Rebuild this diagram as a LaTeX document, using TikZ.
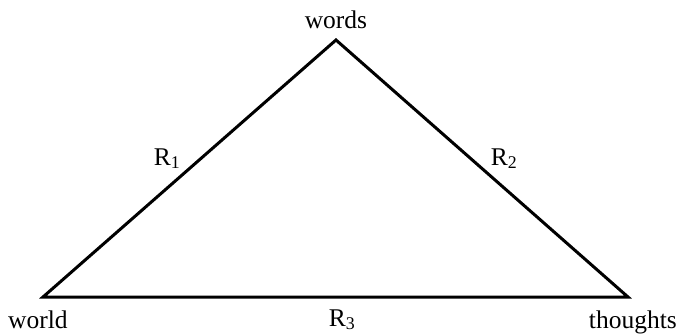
\documentclass[tikz,border=0pt]{standalone}
\usepackage{fontspec}
\setmainfont{Liberation Serif}
\begin{document}
\begin{tikzpicture}[x=1pt,y=-1pt,
  lbl/.style={inner sep=0pt,font=\fontsize{25.5}{28}\selectfont},
  edge/.style={line width=3pt,line join=miter}]
\useasboundingbox (0,0) rectangle (678,335);
\coordinate (A) at (336,40);
\coordinate (B) at (43,297);
\coordinate (C) at (628,297);
\draw[edge] (B) -- (A) -- (C) -- cycle;
\node[lbl,anchor=base] (words) at (336,28) {words};
\node[lbl,anchor=base west] (world) at (8,328) {world};
\node[lbl,anchor=base east] (thoughts) at (677,328) {thoughts};
\node[lbl,anchor=base] (r1) at (167,165) {R\textsubscript{1}};
\node[lbl,anchor=base] (r2) at (504,165) {R\textsubscript{2}};
\node[lbl,anchor=base] (r3) at (342,326) {R\textsubscript{3}};
\end{tikzpicture}
\end{document}
